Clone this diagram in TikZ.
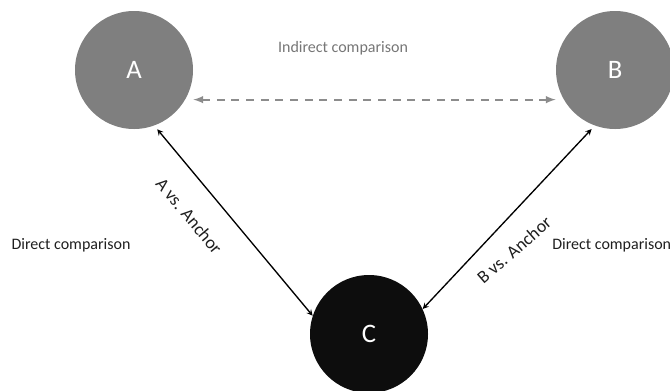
\documentclass[tikz,border=0pt]{standalone}
\usepackage{fontspec}
\setmainfont{Carlito}
\usepackage{xcolor}
\usetikzlibrary{positioning}
\usetikzlibrary{shapes,arrows}
\definecolor{circgray}{HTML}{7F7F7F}
\definecolor{circblack}{HTML}{0D0D0D}
\definecolor{dashgray}{HTML}{8C8C8C}
\definecolor{textgray}{HTML}{767676}
\tikzstyle{refnode} = [circle, fill=circgray, text=white, inner sep=0pt, minimum size=88.5pt, font=\fontsize{20}{24}\selectfont]
\tikzstyle{anchornode} = [refnode, fill=circblack]
\tikzstyle{lbl} = [font=\fontsize{12}{14}\selectfont, inner sep=0pt, text=black!88]
\tikzstyle{vslbl} = [lbl, font=\fontsize{13.5}{16}\selectfont]
\tikzstyle{direct} = [draw, line width=1pt, <->, >=stealth]

\begin{document}
\begin{tikzpicture}[x=0.75pt, y=-0.75pt]
\useasboundingbox (0,0) rectangle (670,390);
\clip (0,0) rectangle (670,390);
% treatments
\node [refnode] at (134,70) (A) {A};
\node [refnode] at (615,70) (B) {B};
\node [anchornode] at (369,334) (C) {C};

% indirect comparison
\node [lbl, text=textgray] at (343,48) (ind) {Indirect comparison};
\path [draw, dashgray, line width=1.5pt, dash pattern=on 6pt off 5pt, <->, >=latex, shorten <=6pt, shorten >=6pt] (A.-30) to (B.-150);

% direct comparisons
\path [direct, shorten <=3.5pt] (A.-70) to node [vslbl, sloped, pos=0.37, below=18pt] {A vs. Anchor} (C.162);
\path [direct, shorten >=3.5pt] (C.25) to node [vslbl, pos=0.42, xshift=14.3pt, yshift=-13.5pt, rotate=41] {B vs. Anchor} (B.-110);
\node [lbl] at (71,245) (dleft) {Direct comparison};
\node [lbl, anchor=west] at (552,245) (dright) {Direct comparison};
\end{tikzpicture}
\end{document}
